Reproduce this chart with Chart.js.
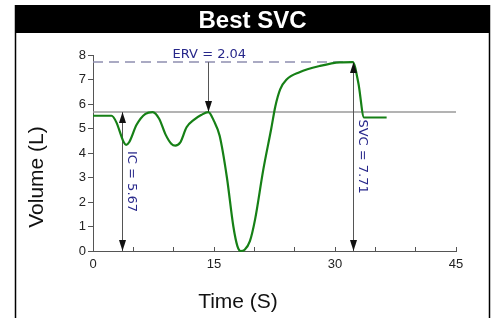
<!DOCTYPE html>
<html>
<head>
<meta charset="utf-8">
<script src="https://cdn.jsdelivr.net/npm/chart.js@4.4.1/dist/chart.umd.min.js"></script>
<style>
  html, body { margin: 0; padding: 0; background: #fff; }
  canvas { display: block; }
</style>
</head>
<body>
<canvas id="svc" width="500" height="318"></canvas>
<script>
// volume trace
const times   = [0, 2.3, 2.9, 3.5, 3.8, 4.1, 4.5, 5.4, 6.5, 7.4, 8.2, 9.0, 9.7, 10.2, 10.8, 11.6, 12.5, 13.4, 14.3,
                 15.0, 15.7, 16.6, 17.4, 17.9, 18.3, 18.8, 19.45, 20.1, 21.1, 22.1, 22.6, 23.2, 24.0, 25.6,
                 28.1, 30.6, 32.2, 32.9, 33.6, 36.4];
const volumes = [5.52, 5.52, 5.25, 4.7, 4.45, 4.33, 4.45, 5.15, 5.6, 5.67, 5.4, 4.75, 4.38, 4.3, 4.42, 5.05, 5.35, 5.55, 5.67,
                 5.3, 4.7, 3.0, 1.0, 0.2, 0.0, 0.05, 0.4, 1.3, 3.3, 5.0, 5.9, 6.6, 7.0, 7.3,
                 7.55, 7.7, 7.71, 6.85, 5.45, 5.45];

const xLabels = [0, 15, 30, 45];
const restLevel = 5.67;
const maxLevel = 7.71;

// measurement arrows
const markerNames = ['IC', 'ERV', 'SVC'];
const markerTimes = [3.6, 14.3, 32.2];
const markerLow   = [0, 5.67, 0];
const markerHigh  = [5.67, 7.71, 7.71];
const markerVals  = ['5.67', '2.04', '7.71'];

const navy = '#27278a';

function arrowHead(ctx, x, y, dir) {
  // dir = -1 points up, 1 points down; (x, y) is the tip
  ctx.beginPath();
  ctx.moveTo(x, y);
  ctx.lineTo(x - 3.5, y - dir * 11);
  ctx.lineTo(x + 3.5, y - dir * 11);
  ctx.closePath();
  ctx.fill();
}

const frame = {
  id: 'frame',
  beforeDraw(chart) {
    const ctx = chart.ctx;
    ctx.save();
    ctx.fillStyle = '#fff';
    ctx.fillRect(0, 0, 500, 318);
    ctx.fillStyle = '#000';
    ctx.fillRect(15, 5, 475, 28);
    ctx.strokeStyle = '#000';
    ctx.lineWidth = 1.5;
    ctx.beginPath();
    ctx.moveTo(15.5, 5); ctx.lineTo(15.5, 318);
    ctx.moveTo(489.5, 5); ctx.lineTo(489.5, 318);
    ctx.stroke();
    ctx.fillStyle = '#fff';
    ctx.font = 'bold 24px "Liberation Sans", Arial, sans-serif';
    ctx.textAlign = 'center';
    ctx.textBaseline = 'alphabetic';
    ctx.fillText('Best SVC', 252.5, 28);

    ctx.fillStyle = '#111';
    ctx.font = '21px "Liberation Sans", Arial, sans-serif';
    ctx.fillText('Time (S)', 238, 308);
    ctx.translate(43, 177);
    ctx.rotate(-Math.PI / 2);
    ctx.fillText('Volume (L)', 0, 0);
    ctx.restore();
  },
  beforeDatasetsDraw(chart) {
    const ctx = chart.ctx, xs = chart.scales.x, ys = chart.scales.y;
    ctx.save();
    ctx.lineWidth = 1.5;
    ctx.strokeStyle = '#9a9a9a';
    ctx.beginPath();
    ctx.moveTo(xs.getPixelForValue(0), ys.getPixelForValue(restLevel));
    ctx.lineTo(xs.getPixelForValue(45), ys.getPixelForValue(restLevel));
    ctx.stroke();
    ctx.strokeStyle = '#8e8eb0';
    ctx.setLineDash([10, 6]);
    ctx.beginPath();
    ctx.moveTo(xs.getPixelForValue(0), ys.getPixelForValue(maxLevel));
    ctx.lineTo(xs.getPixelForValue(markerTimes[2]), ys.getPixelForValue(maxLevel));
    ctx.stroke();
    ctx.setLineDash([]);

    ctx.strokeStyle = '#555';
    ctx.lineWidth = 1;
    markerTimes.forEach((t, i) => {
      const x = Math.round(xs.getPixelForValue(t)) + 0.5;
      ctx.beginPath();
      ctx.moveTo(x, ys.getPixelForValue(markerHigh[i]));
      ctx.lineTo(x, ys.getPixelForValue(markerLow[i]));
      ctx.stroke();
    });
    ctx.restore();
  },
  afterDatasetsDraw(chart) {
    const ctx = chart.ctx, xs = chart.scales.x, ys = chart.scales.y;
    ctx.save();
    ctx.fillStyle = '#111';
    markerTimes.forEach((t, i) => {
      const x = Math.round(xs.getPixelForValue(t)) + 0.5;
      const yTop = ys.getPixelForValue(markerHigh[i]);
      const yBot = ys.getPixelForValue(markerLow[i]);
      if (markerLow[i] === 0) {
        arrowHead(ctx, x, yTop, -1);
        arrowHead(ctx, x, yBot, 1);
      } else {
        arrowHead(ctx, x, yBot, 1);
      }
    });
    ctx.fillStyle = navy;
    ctx.font = '13px "DejaVu Sans", sans-serif';
    markerTimes.forEach((t, i) => {
      const x = xs.getPixelForValue(t);
      const yTop = ys.getPixelForValue(markerHigh[i]);
      const yBot = ys.getPixelForValue(markerLow[i]);
      const txt = markerNames[i] + ' = ' + markerVals[i];
      if (markerLow[i] === 0) {
        ctx.save();
        ctx.translate(x + 6, (yTop + yBot) / 2);
        ctx.rotate(Math.PI / 2);
        ctx.textAlign = 'center';
        ctx.textBaseline = 'alphabetic';
        ctx.fillText(txt, 0, 0);
        ctx.restore();
      } else {
        ctx.textAlign = 'center';
        ctx.textBaseline = 'alphabetic';
        ctx.fillText(txt, x + 1, yTop - 4);
      }
    });
    ctx.restore();
  }
};

new Chart(document.getElementById('svc'), {
  type: 'line',
  data: {
    datasets: [{
      data: times.map((t, i) => ({ x: t, y: volumes[i] })),
      borderColor: 'rgb(22,128,22)',
      borderWidth: 2.2,
      pointRadius: 0,
      cubicInterpolationMode: 'monotone',
      fill: false,
      clip: false
    }]
  },
  options: {
    responsive: false,
    animation: false,
    devicePixelRatio: 1,
    layout: { padding: { top: 55, right: 44, left: 0, bottom: 0 } },
    plugins: { legend: { display: false }, tooltip: { enabled: false } },
    scales: {
      x: {
        type: 'linear', min: 0, max: 45,
        afterFit: s => { s.height = 67; },
        border: { color: '#555', width: 1 },
        grid: { drawOnChartArea: false, tickLength: -4, color: '#555' },
        ticks: {
          stepSize: 5, maxRotation: 0, autoSkip: false, padding: 10,
          color: '#222', font: { family: '"Liberation Sans", Arial, sans-serif', size: 13 },
          callback: v => xLabels.includes(v) ? String(v) : ''
        }
      },
      y: {
        min: 0, max: 8,
        afterFit: s => { s.width = 93; },
        border: { color: '#555', width: 1 },
        grid: { drawOnChartArea: false, tickLength: 5, color: '#555' },
        ticks: {
          stepSize: 1, padding: 2,
          color: '#222', font: { family: '"Liberation Sans", Arial, sans-serif', size: 13 }
        }
      }
    }
  },
  plugins: [frame]
});
</script>
</body>
</html>
